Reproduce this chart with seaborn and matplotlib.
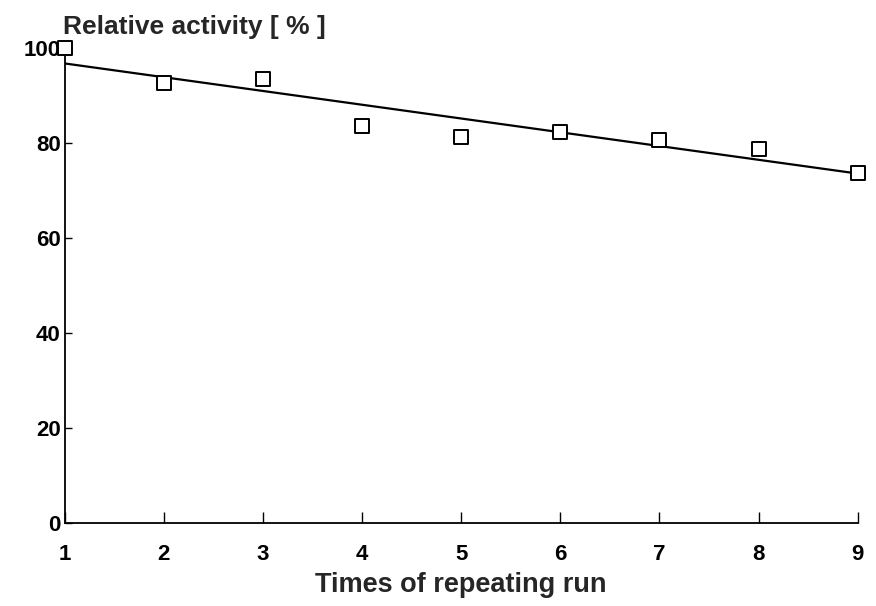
import matplotlib
matplotlib.use("Agg")
import matplotlib.pyplot as plt
import seaborn as sns
from pandas import DataFrame

# values
runs = [1, 2, 3, 4, 5, 6, 7, 8, 9]
activity = [100.0, 92.6, 93.4, 83.6, 81.3, 82.3, 80.6, 78.7, 73.7]
y_ticks = [0, 20, 40, 60, 80, 100]

df = DataFrame({'run': runs, 'activity': activity})

sns.set_style("ticks")
plt.rcParams['font.family'] = ['Liberation Sans', 'DejaVu Sans']
plt.rcParams['font.weight'] = 'bold'

fig = plt.figure(figsize=(8.76, 6.06), dpi=100)
ax = fig.add_axes([0.074, 0.137, 0.905, 0.784])

# fitted line through the points, then the open squares on top
sns.regplot(data=df, x='run', y='activity', ci=None, scatter=False, truncate=True,
            line_kws={'color': 'black', 'lw': 1.6}, ax=ax)
sns.scatterplot(data=df, x='run', y='activity', marker='s', s=115,
                facecolor='white', edgecolor='black', linewidth=1.4,
                ax=ax, zorder=3, clip_on=False)

ax.set_xlim(1, 9)
ax.set_ylim(0, 100)
ax.set_xticks(runs)
ax.set_yticks(y_ticks)
sns.despine(ax=ax)
for s in ['left', 'bottom']:
    ax.spines[s].set_linewidth(1.3)
    ax.spines[s].set_color('black')
ax.tick_params(axis='x', direction='in', length=8, width=1, pad=15, labelsize=16, colors='black')
ax.tick_params(axis='y', direction='in', length=5, width=1, pad=3, labelsize=16, colors='black')

ax.set_xlabel("Times of repeating run", fontsize=19.5, fontweight='bold', labelpad=5)
ax.set_ylabel("")
ax.set_title("Relative activity [ % ]", loc='left', fontsize=19, fontweight='bold', pad=10, x=-0.002)

fig.savefig("out.png", dpi=100)
